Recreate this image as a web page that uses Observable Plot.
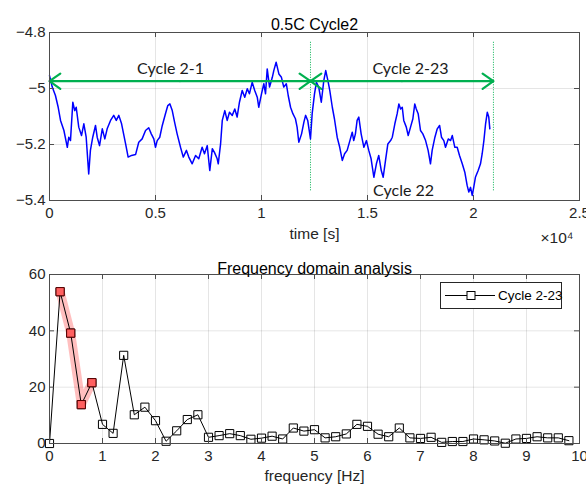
<!DOCTYPE html>
<html>
<head>
<meta charset="utf-8">
<script src="https://cdn.jsdelivr.net/npm/d3@7"></script>
<script src="https://cdn.jsdelivr.net/npm/@observablehq/plot@0.6"></script>
<style>
  body { margin: 0; background: #fff; }
  #wrap { position: relative; width: 586px; height: 490px; font-family: "Liberation Sans", Arial, sans-serif; color: #262626; }
  #top, #bottom { position: absolute; left: 0; }
  #top { top: 0; }
  #bottom { top: 245px; }
  #legend { position: absolute; left: 440px; top: 282px; width: 120px; height: 25px; border: 1px solid #262626; background: #fff; }
  #legend svg { position: absolute; left: 0; top: 0; overflow: visible; }
</style>
</head>
<body>
<div id="wrap">
  <div id="top"></div>
  <div id="bottom"></div>
  <div id="legend"></div>
</div>
<script>
// ---------- Top panel data: voltage vs time ----------
const timeS = [0,130,280,410,520,680,840,910,990,1100,1190,1260,1380,1510,1620,1730,1850,1930,2040,2170,2250,2360,2490,2610,2720,2880,3030,3150,3270,3400,3590,3710,3870,4060,4210,4370,4530,4680,4800,4920,5000,5080,5200,5320,5470,5580,5680,5790,5900,6020,6180,6310,6460,6570,6730,6890,7040,7200,7310,7440,7560,7680,7780,7910,7960,8070,8150,8270,8380,8490,8620,8740,8850,8960,9090,9210,9330,9430,9560,9680,9800,9870,10000,10110,10190,10270,10380,10510,10580,10690,10820,10940,11050,11170,11260,11370,11480,11600,11680,11760,11890,12000,12080,12180,12310,12390,12500,12590,12700,12820,12940,13030,13130,13220,13340,13440,13570,13690,13810,13920,14040,14170,14280,14350,14430,14510,14590,14700,14830,14950,15060,15170,15300,15420,15530,15650,15740,15850,15960,16090,16170,16290,16400,16480,16560,16640,16710,16830,16920,17030,17140,17230,17300,17390,17500,17610,17740,17860,17970,18050,18180,18290,18400,18490,18600,18680,18810,18920,19000,19120,19230,19340,19470,19590,19700,19780,19860,19940,20010,20090,20220,20330,20410,20490,20570,20650,20720,20770];
const voltage = [-4.954,-4.995,-5.025,-5.067,-5.114,-5.150,-5.210,-5.174,-5.186,-5.049,-5.079,-5.067,-5.138,-5.168,-5.126,-5.174,-5.305,-5.221,-5.174,-5.132,-5.174,-5.204,-5.144,-5.180,-5.144,-5.114,-5.096,-5.114,-5.096,-5.126,-5.198,-5.245,-5.239,-5.236,-5.192,-5.180,-5.150,-5.140,-5.162,-5.180,-5.210,-5.186,-5.174,-5.132,-5.090,-5.061,-5.055,-5.079,-5.120,-5.162,-5.210,-5.245,-5.221,-5.245,-5.269,-5.239,-5.251,-5.210,-5.233,-5.204,-5.293,-5.215,-5.228,-5.251,-5.269,-5.198,-5.114,-5.079,-5.114,-5.085,-5.096,-5.073,-5.102,-5.049,-5.007,-5.031,-5.001,-5.019,-4.978,-5.007,-5.031,-5.067,-5.019,-4.983,-5.019,-4.930,-4.995,-4.960,-4.936,-4.906,-4.948,-4.960,-4.995,-4.983,-5.025,-5.067,-5.090,-5.108,-5.138,-5.192,-5.162,-5.120,-5.096,-5.114,-5.180,-5.090,-5.019,-4.978,-4.995,-5.049,-4.971,-4.936,-4.971,-5.007,-5.067,-5.108,-5.174,-5.210,-5.257,-5.233,-5.221,-5.186,-5.156,-5.186,-5.162,-5.114,-5.102,-5.162,-5.210,-5.186,-5.221,-5.251,-5.317,-5.269,-5.239,-5.293,-5.317,-5.257,-5.198,-5.186,-5.174,-5.126,-5.090,-5.055,-5.073,-5.067,-5.114,-5.138,-5.168,-5.138,-5.108,-5.055,-5.073,-5.090,-5.150,-5.162,-5.186,-5.221,-5.269,-5.221,-5.174,-5.144,-5.132,-5.174,-5.186,-5.210,-5.180,-5.186,-5.168,-5.210,-5.210,-5.239,-5.269,-5.299,-5.346,-5.370,-5.353,-5.382,-5.353,-5.317,-5.293,-5.269,-5.233,-5.186,-5.126,-5.085,-5.102,-5.144];
const timeTicks = [0, 5000, 10000, 15000, 20000, 25000];
const voltTicks = [-5.4, -5.2, -5, -4.8];

// Cycle annotations
const cycleEdges = [0, 12310, 20940];
const cycleNames = ["Cycle 2-1", "Cycle 2-23"];
const cycleLabelTimes = [5710, 17030];
const arrowLevel = -4.974;
const cycleLabelLevel = -4.93;
const dividerRange = [-4.835, -5.367];
const innerLabel = {name: "Cycle 22", t: 16700, v: -5.367};

// ---------- Bottom panel data: spectrum ----------
const freqHz = [0,0.2,0.4,0.6,0.8,1.0,1.2,1.4,1.6,1.8,2.0,2.2,2.4,2.6,2.8,3.0,3.2,3.4,3.6,3.8,4.0,4.2,4.4,4.6,4.8,5.0,5.2,5.4,5.6,5.8,6.0,6.2,6.4,6.6,6.8,7.0,7.2,7.4,7.6,7.8,8.0,8.2,8.4,8.6,8.8,9.0,9.2,9.4,9.6,9.8];
const amplitude = [0,53.9,39.2,13.8,21.6,6.8,3.6,31.3,10.2,12.9,8.1,0.8,4.5,8.5,10.2,2.2,2.8,3.5,2.8,1.5,1.9,2.6,1.6,5.5,4.4,4.9,2.0,2.4,3.4,6.8,6.1,3.3,2.4,5.5,2.0,1.8,2.2,0.4,0.7,0.7,1.6,1.3,0.9,0.1,1.6,1.8,2.4,2.0,2.0,1.0];
const highlightFreq = [0.2, 0.4, 0.6, 0.8];
const freqTicks = [0,1,2,3,4,5,6,7,8,9,10];
const ampTicks = [0, 20, 40, 60];
const seriesName = "Cycle 2-23";

// ---------- shared styling ----------
const W = 586, H = 245, ML = 49, MR = 7;
const frameColor = "#4d4d4d";
const green = "#00b050";
const TICK_FS = 15, LABEL_FS = 15.5, TITLE_FS = 16;
const fontStyle = {fontSize: TICK_FS + "px", fontFamily: "'Liberation Sans', Arial, sans-serif", color: "#262626", background: "transparent", overflow: "visible"};
const minus = d => String(d).replace("-", "\u2212");

function boxTicks(xt, yt, plotW, plotH) {
  const L = 5;
  return [
    Plot.tickX(xt, {x: d => d, insetTop: plotH - L, stroke: frameColor}),
    Plot.tickX(xt, {x: d => d, insetBottom: plotH - L, stroke: frameColor}),
    Plot.tickY(yt, {y: d => d, insetRight: plotW - L, stroke: frameColor}),
    Plot.tickY(yt, {y: d => d, insetLeft: plotW - L, stroke: frameColor})
  ];
}

// ---------- Top chart ----------
const topMT = 32, topMB = 45;
const topData = timeS.map((t, i) => ({t, v: voltage[i]}));
const arrowData = [];
cycleNames.forEach((n, i) => {
  const a = cycleEdges[i], b = cycleEdges[i + 1], m = (a + b) / 2;
  arrowData.push({x1: m, x2: a}, {x1: m, x2: b});
});
const labelData = cycleNames.map((n, i) => ({name: n, t: cycleLabelTimes[i]}));

const topChart = Plot.plot({
  width: W, height: H,
  marginLeft: ML, marginRight: MR, marginTop: topMT, marginBottom: topMB,
  style: fontStyle,
  x: {domain: [0, 25000], axis: null},
  y: {domain: [-5.4, -4.8], axis: null},
  marks: [
    Plot.gridX(timeTicks, {stroke: "#000", strokeOpacity: 0.1}),
    Plot.gridY(voltTicks, {stroke: "#000", strokeOpacity: 0.1}),
    Plot.ruleX(cycleEdges.slice(1), {y1: dividerRange[0], y2: dividerRange[1], stroke: green, strokeWidth: 1, strokeDasharray: "1,1.5"}),
    Plot.line(topData, {x: "t", y: "v", stroke: "#0000ff", strokeWidth: 1.5}),
    Plot.arrow(arrowData, {x1: "x1", x2: "x2", y1: arrowLevel, y2: arrowLevel, stroke: green, strokeWidth: 2.2, headLength: 9, headAngle: 70}),
    Plot.text(labelData, {x: "t", y: cycleLabelLevel, text: "name", fontSize: 16, fontFamily: "Lato, sans-serif", fill: "#1a1a1a"}),
    Plot.text([innerLabel], {x: "t", y: "v", text: "name", fontSize: 16, fontFamily: "Lato, sans-serif", fill: "#1a1a1a"}),
    Plot.frame({stroke: frameColor}),
    ...boxTicks(timeTicks, voltTicks, W - ML - MR, H - topMT - topMB),
    Plot.axisX(timeTicks, {tickSize: 0, tickPadding: 7, tickFormat: d => d === 0 ? "0" : String(d / 1e4), label: null, fontSize: TICK_FS}),
    Plot.axisY(voltTicks, {tickSize: 0, tickPadding: 4, tickFormat: minus, label: null, fontSize: TICK_FS}),
    Plot.text(["0.5C Cycle2"], {frameAnchor: "top", dy: -14, fontSize: TITLE_FS, fill: "#000"}),
    Plot.text(["time [s]"], {frameAnchor: "bottom", dy: 38, fontSize: LABEL_FS, fill: "#262626"}),
    Plot.text(["\u00d710\u2074"], {frameAnchor: "bottom-right", dy: 42, dx: -6, textAnchor: "end", fontSize: LABEL_FS, fill: "#262626"})
  ]
});
document.getElementById("top").append(topChart);

// ---------- Bottom chart ----------
const botMT = 29, botMB = 47;
const specData = freqHz.map((f, i) => ({f, a: amplitude[i]}));
const hiData = specData.filter(d => highlightFreq.includes(d.f));

const botChart = Plot.plot({
  width: W, height: H,
  marginLeft: ML, marginRight: MR, marginTop: botMT, marginBottom: botMB,
  style: fontStyle,
  x: {domain: [0, 10], axis: null},
  y: {domain: [0, 60], axis: null},
  marks: [
    Plot.gridX(freqTicks, {stroke: "#000", strokeOpacity: 0.1}),
    Plot.gridY(ampTicks, {stroke: "#000", strokeOpacity: 0.1}),
    Plot.line(hiData, {x: "f", y: "a", stroke: "#ff0000", strokeOpacity: 0.25, strokeWidth: 9, strokeLinecap: "round", strokeLinejoin: "round"}),
    Plot.line(specData, {x: "f", y: "a", stroke: "#000", strokeWidth: 1}),
    Plot.dot(specData, {x: "f", y: "a", symbol: "square", r: 4.6, stroke: "#000", strokeWidth: 1, fill: "none"}),
    Plot.dot(hiData, {x: "f", y: "a", symbol: "square", r: 4.6, stroke: "#5a0000", strokeWidth: 1, fill: "#ff6060"}),
    Plot.frame({stroke: frameColor}),
    ...boxTicks(freqTicks, ampTicks, W - ML - MR, H - botMT - botMB),
    Plot.axisX(freqTicks, {tickSize: 0, tickPadding: 7, tickFormat: d => String(d), label: null, fontSize: TICK_FS}),
    Plot.axisY(ampTicks, {tickSize: 0, tickPadding: 4, tickFormat: d => String(d), label: null, fontSize: TICK_FS}),
    Plot.text(["Frequency domain analysis"], {frameAnchor: "top", dy: -12, fontSize: TITLE_FS, fill: "#000"}),
    Plot.text(["frequency [Hz]"], {frameAnchor: "bottom", dy: 37, fontSize: LABEL_FS, fill: "#262626"})
  ]
});
document.getElementById("bottom").append(botChart);

// ---------- Legend ----------
const legend = d3.select("#legend").append("svg").attr("width", 120).attr("height", 25);
legend.append("line").attr("x1", 4).attr("x2", 54).attr("y1", 12.5).attr("y2", 12.5).attr("stroke", "#000");
legend.append("rect").attr("x", 26).attr("y", 8.5).attr("width", 8).attr("height", 8).attr("fill", "#fff").attr("stroke", "#000");
legend.append("text").attr("x", 57).attr("y", 12.5).attr("dy", "0.35em").attr("font-size", 13.5)
  .attr("font-family", "'Liberation Sans', Arial, sans-serif").attr("fill", "#000").text(seriesName);
</script>
</body>
</html>
